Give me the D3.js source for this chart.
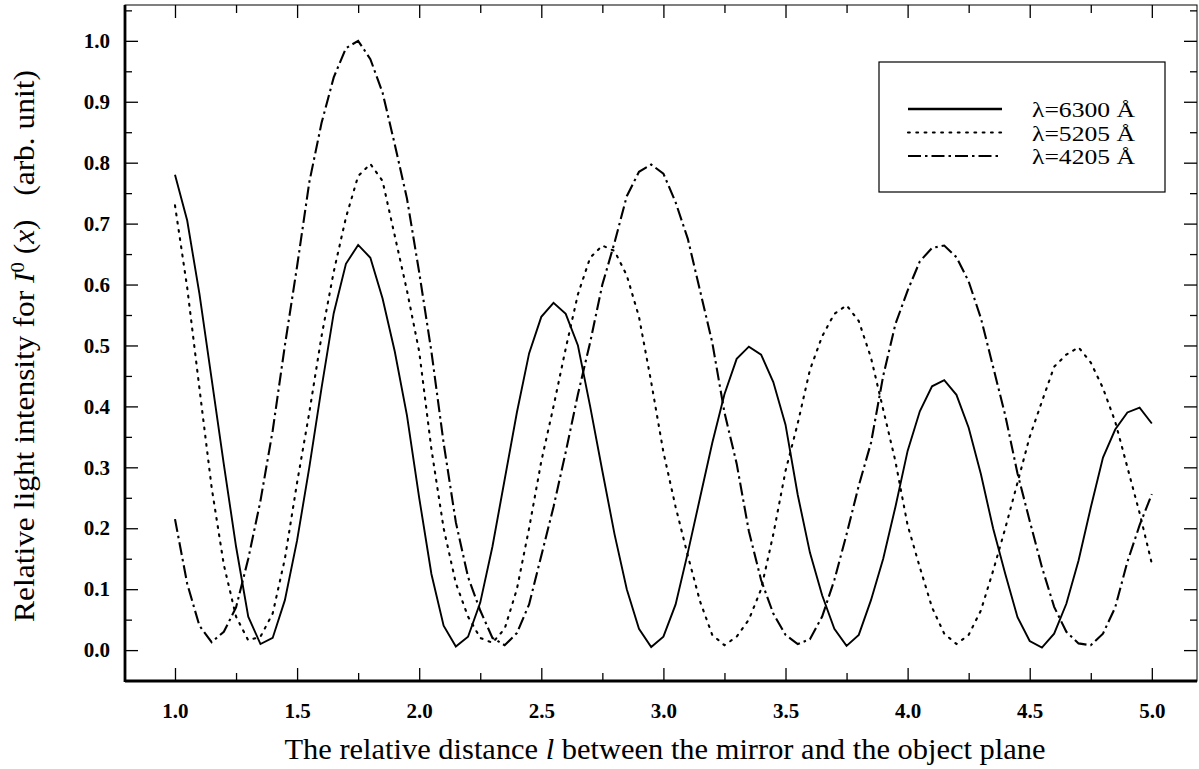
<!DOCTYPE html>
<html>
<head>
<meta charset="utf-8">
<script src="https://cdn.jsdelivr.net/npm/d3@7"></script>
<style>
  body { margin: 0; background: #fff; }
  svg { display: block; }
</style>
</head>
<body>
<script>

// sample positions, 0.05 apart
let lValues = d3.range(0, 81).map(function (i) { return +(1 + i * 0.05).toFixed(2); });

let red6300 = [0.780, 0.705, 0.585, 0.445, 0.305, 0.170, 0.055, 0.010, 0.020, 0.082,
  0.180, 0.300, 0.430, 0.553, 0.634, 0.665, 0.644, 0.577, 0.490, 0.385,
  0.250, 0.125, 0.040, 0.006, 0.022, 0.078, 0.170, 0.280, 0.390, 0.487,
  0.547, 0.570, 0.552, 0.500, 0.400, 0.294, 0.190, 0.100, 0.035, 0.005,
  0.022, 0.075, 0.160, 0.250, 0.340, 0.420, 0.478, 0.498, 0.485, 0.440,
  0.370, 0.255, 0.160, 0.090, 0.035, 0.007, 0.025, 0.082, 0.150, 0.235,
  0.327, 0.392, 0.433, 0.443, 0.419, 0.365, 0.289, 0.200, 0.125, 0.054,
  0.015, 0.004, 0.027, 0.076, 0.147, 0.234, 0.316, 0.362, 0.390, 0.398,
  0.372];

let green5205 = [0.730, 0.595, 0.430, 0.267, 0.140, 0.055, 0.016, 0.022, 0.060, 0.150,
  0.275, 0.390, 0.515, 0.621, 0.710, 0.778, 0.798, 0.770, 0.680, 0.590,
  0.490, 0.330, 0.200, 0.110, 0.055, 0.020, 0.012, 0.035, 0.100, 0.200,
  0.310, 0.400, 0.495, 0.584, 0.644, 0.664, 0.655, 0.615, 0.547, 0.440,
  0.325, 0.235, 0.155, 0.080, 0.025, 0.008, 0.022, 0.050, 0.100, 0.190,
  0.294, 0.372, 0.460, 0.515, 0.552, 0.566, 0.540, 0.480, 0.395, 0.310,
  0.205, 0.136, 0.070, 0.027, 0.010, 0.025, 0.065, 0.130, 0.200, 0.275,
  0.350, 0.408, 0.465, 0.485, 0.497, 0.472, 0.430, 0.375, 0.300, 0.225,
  0.142];

let blue4205 = [0.215, 0.109, 0.040, 0.013, 0.030, 0.070, 0.150, 0.245, 0.360, 0.500,
  0.630, 0.768, 0.865, 0.940, 0.988, 1.000, 0.970, 0.915, 0.830, 0.741,
  0.620, 0.490, 0.340, 0.210, 0.120, 0.065, 0.020, 0.008, 0.028, 0.075,
  0.155, 0.235, 0.325, 0.420, 0.505, 0.600, 0.669, 0.745, 0.785, 0.797,
  0.782, 0.735, 0.675, 0.590, 0.505, 0.390, 0.306, 0.195, 0.115, 0.060,
  0.025, 0.010, 0.018, 0.055, 0.115, 0.190, 0.270, 0.340, 0.450, 0.535,
  0.590, 0.638, 0.660, 0.664, 0.645, 0.605, 0.545, 0.465, 0.385, 0.290,
  0.212, 0.136, 0.071, 0.030, 0.011, 0.008, 0.027, 0.070, 0.145, 0.205,
  0.256];

let xMajor = [1.0, 1.5, 2.0, 2.5, 3.0, 3.5, 4.0, 4.5, 5.0];
let xMinor = [1.25, 1.75, 2.25, 2.75, 3.25, 3.75, 4.25, 4.75];
let yMajor = [0.0, 0.1, 0.2, 0.3, 0.4, 0.5, 0.6, 0.7, 0.8, 0.9, 1.0];
let yMinor = [-0.05, 0.05, 0.15, 0.25, 0.35, 0.45, 0.55, 0.65, 0.75, 0.85, 0.95, 1.05];

let legendLabels = ["λ=6300 Å", "λ=5205 Å", "λ=4205 Å"];
let series = [red6300, green5205, blue4205];
let dashes = [null, "1.8,6.5", "13,4,2.5,4"];

let W = 1199, H = 769;
let pLeft = 125, pRight = 1197, pTop = 5, pBottom = 681;

let svg = d3.select("body").append("svg")
    .attr("width", W)
    .attr("height", H);

let x = d3.scaleLinear().domain([0.7953, 5.185]).range([pLeft, pRight]);
let y = d3.scaleLinear().domain([-0.0507, 1.0588]).range([pBottom, pTop]);

// frame
svg.append("rect")
    .attr("x", pLeft).attr("y", pTop)
    .attr("width", pRight - pLeft).attr("height", pBottom - pTop)
    .attr("fill", "none").attr("stroke", "#000").attr("stroke-width", 1);

let fontTick = "bold 21px 'Liberation Serif', serif";

// bottom axis
svg.append("g").attr("transform", "translate(0," + pBottom + ")")
    .call(d3.axisBottom(x).tickValues(xMajor).tickSizeInner(-13).tickSizeOuter(0)
        .tickPadding(22).tickFormat(d3.format(".1f")));
svg.append("g").attr("transform", "translate(0," + pBottom + ")")
    .call(d3.axisBottom(x).tickValues(xMinor).tickSizeInner(-8).tickSizeOuter(0).tickFormat(""));
// top axis
svg.append("g").attr("transform", "translate(0," + pTop + ")")
    .call(d3.axisTop(x).tickValues(xMajor).tickSizeInner(-13).tickSizeOuter(0).tickFormat(""));
svg.append("g").attr("transform", "translate(0," + pTop + ")")
    .call(d3.axisTop(x).tickValues(xMinor).tickSizeInner(-8).tickSizeOuter(0).tickFormat(""));

// left axis
svg.append("g").attr("transform", "translate(" + pLeft + ",0)")
    .call(d3.axisLeft(y).tickValues(yMajor).tickSizeInner(-13).tickSizeOuter(0)
        .tickPadding(15).tickFormat(d3.format(".1f")));
svg.append("g").attr("transform", "translate(" + pLeft + ",0)")
    .call(d3.axisLeft(y).tickValues(yMinor).tickSizeInner(-7).tickSizeOuter(0).tickFormat(""));
// right axis
svg.append("g").attr("transform", "translate(" + pRight + ",0)")
    .call(d3.axisRight(y).tickValues(yMajor).tickSizeInner(-13).tickSizeOuter(0).tickFormat(""));
svg.append("g").attr("transform", "translate(" + pRight + ",0)")
    .call(d3.axisRight(y).tickValues(yMinor).tickSizeInner(-7).tickSizeOuter(0).tickFormat(""));

svg.selectAll(".domain").remove();
svg.selectAll(".tick line").attr("stroke", "#000").attr("stroke-width", 1.3);
svg.selectAll(".tick text").style("font", fontTick).attr("fill", "#000");

// thicker left and bottom edges
svg.append("line").attr("x1", pLeft).attr("x2", pLeft).attr("y1", pTop).attr("y2", pBottom + 1)
    .attr("stroke", "#000").attr("stroke-width", 2.8);
svg.append("line").attr("x1", pLeft).attr("x2", pRight).attr("y1", pBottom).attr("y2", pBottom)
    .attr("stroke", "#000").attr("stroke-width", 2.8);

// curves
let line = d3.line()
    .x(function (d, i) { return x(lValues[i]); })
    .y(function (d) { return y(d); });

series.forEach(function (s, k) {
    svg.append("path")
        .attr("d", line(s))
        .attr("fill", "none")
        .attr("stroke", "#000")
        .attr("stroke-width", k == 0 ? 1.9 : 2.1)
        .attr("stroke-linecap", k == 1 ? "round" : "butt")
        .attr("stroke-dasharray", dashes[k]);
});

// legend
let lg = svg.append("g");
lg.append("rect").attr("x", 879).attr("y", 62).attr("width", 286).attr("height", 130)
    .attr("fill", "#fff").attr("stroke", "#000").attr("stroke-width", 1.2);
legendLabels.forEach(function (t, k) {
    let ly = 109 + k * 23.5;
    lg.append("line").attr("x1", 908).attr("x2", 1002).attr("y1", ly).attr("y2", ly)
        .attr("stroke", "#000").attr("stroke-width", k == 0 ? 2.4 : 2.1)
        .attr("stroke-linecap", k == 1 ? "round" : "butt")
        .attr("stroke-dasharray", dashes[k]);
    lg.append("text").attr("x", 1032).attr("y", ly + 8)
        .attr("textLength", 103).attr("lengthAdjust", "spacingAndGlyphs")
        .style("font", "21px 'Liberation Serif', serif")
        .text(t);
});

// axis titles
let xt = svg.append("text")
    .attr("x", 665).attr("y", 759)
    .attr("text-anchor", "middle")
    .attr("textLength", 761).attr("lengthAdjust", "spacingAndGlyphs")
    .style("font", "30px 'Liberation Serif', serif");
xt.append("tspan").text("The relative distance ");
xt.append("tspan").style("font-style", "italic").text("l");
xt.append("tspan").text(" between the mirror and the object plane");

let yt = svg.append("text")
    .attr("transform", "translate(34,346) rotate(-90)")
    .attr("text-anchor", "middle")
    .attr("textLength", 552).attr("lengthAdjust", "spacingAndGlyphs")
    .style("font", "29px 'Liberation Serif', serif");
yt.append("tspan").text("Relative light intensity for ");
yt.append("tspan").style("font-style", "italic").text("I");
yt.append("tspan").attr("dy", -10).style("font-size", "19px").text("0");
yt.append("tspan").attr("dy", 10).text(" (");
yt.append("tspan").style("font-style", "italic").text("x");
yt.append("tspan").text(")\u00a0\u00a0\u00a0(arb. unit)");

</script>
</body>
</html>
